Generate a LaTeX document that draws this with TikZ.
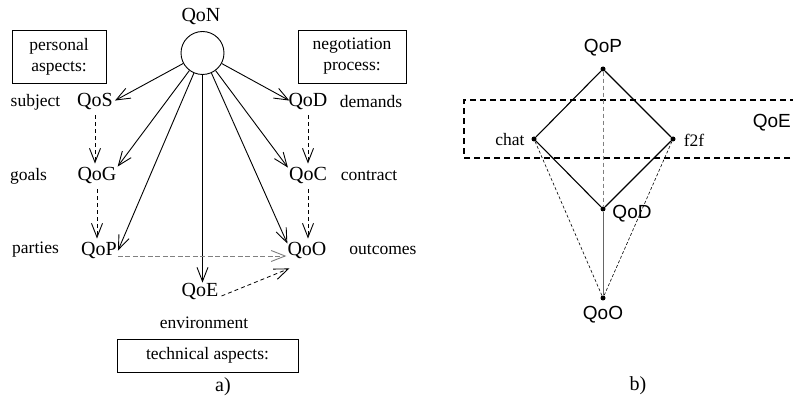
\documentclass[tikz,border=0pt]{standalone}
\usepackage{fontspec}
\setmainfont{Liberation Serif}
\newfontfamily\hvfont{Liberation Sans}
\usetikzlibrary{arrows.meta}
\tikzset{
  qlab/.style={inner sep=1pt, font=\fontsize{20}{24}\selectfont},
  slab/.style={inner sep=1pt, font=\fontsize{17.5}{21}\selectfont},
  hlab/.style={inner sep=1pt, font=\hvfont\fontsize{19}{23}\selectfont},
  aspectbox/.style={draw, line width=0.9pt, inner sep=0pt, align=center, font=\fontsize{17.5}{21}\selectfont},
  tip/.style={-{Straight Barb[length=14pt,width=11pt,line width=0.9pt]}},
  arr/.style={tip, line width=0.9pt},
  darr/.style={tip, line width=0.8pt, dash pattern=on 4pt off 3pt},
  garr/.style={tip, line width=0.7pt, draw=gray, dash pattern=on 5pt off 2.5pt},
  dot/.style={circle, fill, inner sep=0pt, minimum size=5pt},
  bline/.style={line width=1.1pt},
  gdash/.style={draw=gray, line width=1pt, dash pattern=on 4pt off 3pt},
  gsolid/.style={draw=gray!80!black, line width=1pt},
  tdash/.style={line width=0.6pt, dash pattern=on 3pt off 2pt},
  regbox/.style={line width=1.5pt, dash pattern=on 6pt off 4pt}
}
\begin{document}
\begin{tikzpicture}[x=1pt,y=-1pt]
\clip (0,0) rectangle (793,398);
\fill[white] (0,0) rectangle (793,398);
% ---------- part a ----------
\node[qlab] (QoNl) at (201,17) {QoN};
\node[circle, draw, line width=0.9pt, minimum size=43pt, inner sep=0pt] (N) at (202.5,53) {};
\node[aspectbox, minimum width=94pt, minimum height=53pt] (B1) at (59,56.5) {personal\\aspects:};
\node[aspectbox, minimum width=108pt, minimum height=53pt] (B2) at (352,56.5) {negotiation\\process:};
\node[aspectbox, minimum width=181pt, minimum height=33pt] (B3) at (207.5,355.5) {technical aspects:};

\node[slab] (subj) at (35.5,102) {subject};
\node[qlab] (QoS) at (95,102) {QoS};
\node[qlab] (QoD) at (308,102) {QoD};
\node[slab] (dem) at (371,102) {demands};
\node[slab] (goals) at (28.5,176) {goals};
\node[qlab] (QoG) at (97,176) {QoG};
\node[qlab] (QoC) at (308,176) {QoC};
\node[slab] (contr) at (369,176) {contract};
\node[slab] (part) at (35.5,250) {parties};
\node[qlab] (QoP) at (99,251) {QoP};
\node[qlab] (QoO) at (307,251) {QoO};
\node[slab] (outc) at (383,250) {outcomes};
\node[qlab] (QoE) at (200,292) {QoE};
\node[slab] (env) at (204,323) {environment};
\node[qlab] (la) at (223,387) {a)};

\draw[arr] (N) -- ([xshift=1pt,yshift=-8pt]QoS.north east);
\draw[arr] (N) -- ([xshift=0pt,yshift=0pt]QoG.north east);
\draw[arr] (N) -- ([xshift=0pt,yshift=-9pt]QoP.north east);
\draw[arr] (N.south) -- (N.south |- QoE.north);
\draw[arr] (N) -- ([xshift=1pt,yshift=-2pt]QoO.north west);
\draw[arr] (N) -- ([xshift=0pt,yshift=-1pt]QoC.north west);
\draw[arr] (N) -- ([xshift=2pt,yshift=-8pt]QoD.north west);

\draw[darr, shorten <=4pt, shorten >=3pt] (QoS.south) -- (QoS.south |- QoG.north);
\draw[darr, shorten <=4pt, shorten >=3pt] (QoG.south) -- (QoG.south |- QoP.north);
\draw[darr, shorten <=4pt, shorten >=3pt] (QoD.south) -- (QoD.south |- QoC.north);
\draw[darr, shorten <=4pt, shorten >=3pt] (QoC.south) -- (QoC.south |- QoO.north);
\draw[garr] ([yshift=-5pt]QoP.east) -- ([yshift=-5pt]QoO.west);
\draw[darr] ([xshift=2pt,yshift=-4pt]QoE.east) -- ([xshift=3pt,yshift=-8pt]QoO.south west);

% ---------- part b ----------
\node[dot] (P) at (603,69) {};
\node[dot] (c) at (534,139) {};
\node[dot] (f) at (673,139) {};
\node[dot] (D) at (603,209) {};
\node[dot] (O) at (603,298) {};
\node[hlab] (Pl) at (603,48) {QoP};
\node[slab] (cl) at (510,140) {chat};
\node[slab] (fl) at (694,140) {f2f};
\node[hlab] (Dl) at (632,214) {QoD};
\node[hlab] (Ol) at (603,315) {QoO};
\node[hlab, anchor=east] (El) at (792,123) {QoE};
\node[qlab] (lb) at (638,386) {b)};

\draw[regbox] (900,158) -- (464,158) -- (464,100) -- (900,100);
\draw[gdash] (P) -- (D);
\draw[gsolid] (D) -- (O);
\draw[tdash] (c) -- (O);
\draw[tdash] (f) -- (O);
\draw[bline] (P) -- (c) -- (D) -- (f) -- (P);
\end{tikzpicture}
\end{document}
